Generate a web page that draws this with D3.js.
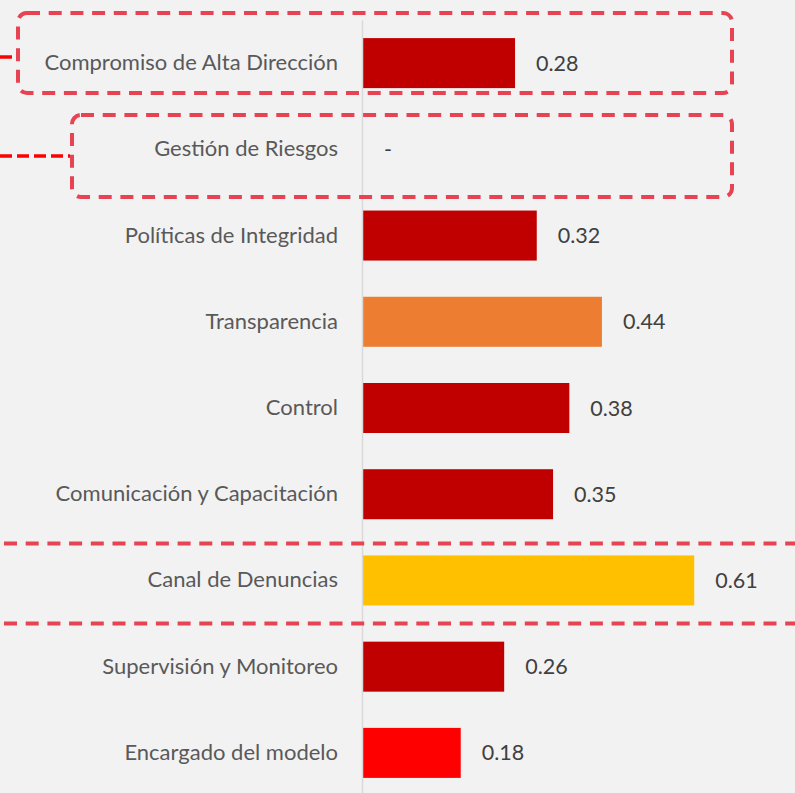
<!DOCTYPE html>
<html>
<head>
<meta charset="utf-8">
<script src="https://cdn.jsdelivr.net/npm/d3@7"></script>
<style>
  body { margin: 0; background: #f2f2f2; }
  svg { display: block; }
</style>
</head>
<body>
<script>
const categories = [
  "Compromiso de Alta Dirección",
  "Gestión de Riesgos",
  "Políticas de Integridad",
  "Transparencia",
  "Control",
  "Comunicación y Capacitación",
  "Canal de Denuncias",
  "Supervisión y Monitoreo",
  "Encargado del modelo"
];
const values = [0.28, null, 0.32, 0.44, 0.38, 0.35, 0.61, 0.26, 0.18];
const barColors = ["#c00000", "#c00000", "#c00000", "#ed7d31", "#c00000", "#c00000", "#ffc000", "#c00000", "#ff0000"];

const width = 795;
const height = 793;

const svg = d3.select("body")
  .append("svg")
  .attr("width", width)
  .attr("height", height);

svg.append("rect")
  .attr("width", width)
  .attr("height", height)
  .attr("fill", "#f2f2f2");

// Scales
const x = d3.scaleLinear().domain([0, 1]).range([363, 906]);
const y = d3.scaleBand().domain(categories).range([20, 796]).paddingInner(0.42).paddingOuter(0.21);

// Bars
svg.selectAll("rect.bar")
  .data(categories.map((c, i) => ({ c, v: values[i], col: barColors[i] })).filter(d => d.v != null))
  .enter()
  .append("rect")
  .attr("class", "bar")
  .attr("x", x(0))
  .attr("y", d => y(d.c))
  .attr("width", d => x(d.v) - x(0))
  .attr("height", y.bandwidth())
  .attr("fill", d => d.col);

// Vertical axis line + category labels
const yAxis = d3.axisLeft(y).tickSize(0).tickPadding(24);
const gAxis = svg.append("g")
  .attr("transform", `translate(${x(0) - 1}, 0)`)
  .call(yAxis);
gAxis.select(".domain").attr("stroke", "#d9d9d9").attr("stroke-width", 1.5);
gAxis.selectAll("text")
  .attr("fill", "#595959")
  .style("font-family", "Lato, 'Open Sans', sans-serif")
  .style("font-size", "22px");

// Value labels
svg.selectAll("text.val")
  .data(categories.map((c, i) => ({ c, v: values[i] })))
  .enter()
  .append("text")
  .attr("class", "val")
  .attr("x", d => x(d.v == null ? 0 : d.v) + 21)
  .attr("y", d => y(d.c) + y.bandwidth() / 2)
  .attr("dy", "0.35em")
  .attr("fill", "#404040")
  .style("font-family", "Lato, 'Open Sans', sans-serif")
  .style("font-size", "21.5px")
  .text(d => d.v == null ? "-" : d3.format(".2f")(d.v));

// Dashed highlight annotations
const dash = "13,8.7";
const hl = "#e84352";
const ann = svg.append("g").attr("fill", "none");

ann.append("rect")
  .attr("x", 18).attr("y", 13)
  .attr("width", 732 - 18).attr("height", 93 - 13)
  .attr("rx", 9)
  .attr("stroke", hl).attr("stroke-width", 4)
  .attr("stroke-dasharray", dash);

ann.append("rect")
  .attr("x", 72).attr("y", 115)
  .attr("width", 732 - 72).attr("height", 197 - 115)
  .attr("rx", 9)
  .attr("stroke", hl).attr("stroke-width", 4)
  .attr("stroke-dasharray", dash);

ann.append("line")
  .attr("x1", 0).attr("x2", 16).attr("y1", 57).attr("y2", 57)
  .attr("stroke", "#ff0000").attr("stroke-width", 3.5)
  .attr("stroke-dasharray", "12,5");

ann.append("line")
  .attr("x1", 0).attr("x2", 70).attr("y1", 156).attr("y2", 156)
  .attr("stroke", "#ff0000").attr("stroke-width", 3.5)
  .attr("stroke-dasharray", "12,5");

// Lines around "Canal de Denuncias"
const canalY = y("Canal de Denuncias");
[canalY - 12, canalY + y.bandwidth() + 18].forEach(ly => {
  ann.append("line")
    .attr("x1", 0).attr("x2", width).attr("y1", ly).attr("y2", ly)
    .attr("stroke", hl).attr("stroke-width", 4)
    .attr("stroke-dasharray", dash)
    .attr("stroke-dashoffset", -4);
});
</script>
</body>
</html>
